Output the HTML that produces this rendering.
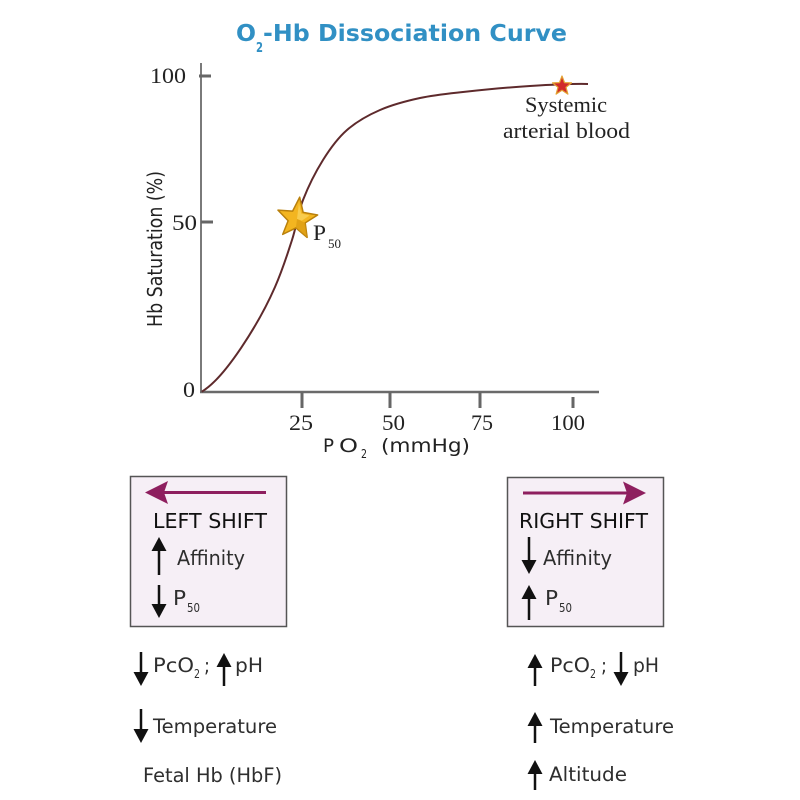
<!DOCTYPE html>
<html>
<head>
<meta charset="utf-8">
<style>
  html, body { margin:0; padding:0; background:#ffffff; }
  svg { display:block; }
</style>
</head>
<body>
<svg width="800" height="800" viewBox="0 0 800 800" xmlns="http://www.w3.org/2000/svg">
  <rect x="0" y="0" width="800" height="800" fill="#ffffff"/>

  <!-- Title -->
  <g font-family="'DejaVu Sans', 'Liberation Sans', sans-serif" font-weight="bold" fill="#3190c4">
    <text x="236" y="41" font-size="23" textLength="20" lengthAdjust="spacingAndGlyphs">O</text>
    <text x="256" y="52" font-size="13" textLength="7" lengthAdjust="spacingAndGlyphs">2</text>
    <text x="263" y="41" font-size="23" textLength="304" lengthAdjust="spacingAndGlyphs">-Hb Dissociation Curve</text>
  </g>

  <!-- Axes -->
  <line x1="201" y1="63" x2="201" y2="393" stroke="#7a7a7a" stroke-width="2"/>
  <line x1="200" y1="392" x2="599" y2="392" stroke="#6a6a6a" stroke-width="2.5"/>
  <!-- y ticks -->
  <line x1="199" y1="76" x2="211" y2="76" stroke="#666" stroke-width="3"/>
  <line x1="201" y1="222" x2="213" y2="222" stroke="#666" stroke-width="3"/>
  <!-- x ticks -->
  <line x1="302" y1="392" x2="302" y2="408" stroke="#666" stroke-width="3"/>
  <line x1="390" y1="392" x2="390" y2="408" stroke="#666" stroke-width="3"/>
  <line x1="480" y1="392" x2="480" y2="408" stroke="#666" stroke-width="3"/>
  <line x1="573" y1="397" x2="573" y2="408" stroke="#666" stroke-width="3"/>

  <!-- tick labels -->
  <g font-family="'Liberation Serif', serif" font-size="22" fill="#222">
    <text x="150" y="83" textLength="36" lengthAdjust="spacingAndGlyphs">100</text>
    <text x="172" y="230" textLength="25" lengthAdjust="spacingAndGlyphs">50</text>
    <text x="183" y="397" textLength="12" lengthAdjust="spacingAndGlyphs">0</text>
    <text x="289" y="430" textLength="24" lengthAdjust="spacingAndGlyphs">25</text>
    <text x="382" y="430" textLength="23" lengthAdjust="spacingAndGlyphs">50</text>
    <text x="471" y="430" textLength="22" lengthAdjust="spacingAndGlyphs">75</text>
    <text x="551" y="430" textLength="34" lengthAdjust="spacingAndGlyphs">100</text>
  </g>

  <!-- axis titles -->
  <g font-family="'DejaVu Sans', 'Liberation Sans', sans-serif" fill="#222">
    <text transform="translate(162,249) rotate(-90)" text-anchor="middle" font-size="20" textLength="156" lengthAdjust="spacingAndGlyphs">Hb Saturation (%)</text>
    <text x="323" y="452" font-size="19" textLength="11" lengthAdjust="spacingAndGlyphs">P</text>
    <text x="339" y="452" font-size="19" textLength="19" lengthAdjust="spacingAndGlyphs">O</text>
    <text x="361" y="458" font-size="12" textLength="6" lengthAdjust="spacingAndGlyphs">2</text>
    <text x="381" y="452" font-size="19" textLength="89" lengthAdjust="spacingAndGlyphs">(mmHg)</text>
  </g>

  <!-- Curve -->
  <path d="M201.7,391.7
           C225,378 259,323.5 275,287
           C282.8,269.2 287.3,254.5 292,240
           C296.7,225.5 297.8,213.3 303,200
           C308.2,186.7 315.7,171.7 323,160
           C330.3,148.3 337.5,138.3 347,130
           C356.5,121.7 367.8,115.3 380,110
           C392.2,104.7 406.2,101 420,98
           C433.8,95 444.7,94 463,92
           C481.3,90 509.2,87.3 530,86
           C550.8,84.7 578.3,83.7 588,84"
        fill="none" stroke="#5e2a2c" stroke-width="2"/>

  <!-- P50 star -->
  <g transform="rotate(7 297 219)">
    <polygon points="297,197 302.3,211.7 317,212.5 305.6,221.8 309.3,236 297,228 284.7,236 288.4,221.8 277,212.5 291.7,211.7"
             fill="#f3b520" stroke="#b9800c" stroke-width="1.5" stroke-linejoin="round"/>
    <polygon points="297,203 300.5,213 309,214 302,220 297,219" fill="#f9d25a" opacity="0.8"/>
    <polygon points="297,219 305.6,221.8 309.3,236 297,228" fill="#d99a12" opacity="0.7"/>
  </g>
  <g font-family="'Liberation Serif', serif" fill="#222">
    <text x="313" y="240" font-size="22" textLength="13" lengthAdjust="spacingAndGlyphs">P</text>
    <text x="328" y="248" font-size="13" textLength="13" lengthAdjust="spacingAndGlyphs">50</text>
  </g>

  <!-- Systemic arterial blood star -->
  <polygon points="562,76 564.5,82.6 571.5,82.9 566,87.3 567.9,94.1 562,90.2 556.1,94.1 558,87.3 552.5,82.9 559.5,82.6"
           fill="#d12a2a" stroke="#e3a233" stroke-width="1.2" stroke-linejoin="round"/>
  <g font-family="'Liberation Serif', serif" font-size="22" fill="#222">
    <text x="525" y="112" textLength="82" lengthAdjust="spacingAndGlyphs">Systemic</text>
    <text x="503" y="138" textLength="127" lengthAdjust="spacingAndGlyphs">arterial blood</text>
  </g>

  <!-- Boxes -->
  <rect x="130.5" y="476.5" width="156" height="150" fill="#f6eff6" stroke="#555" stroke-width="1.5"/>
  <rect x="507.5" y="477.5" width="156" height="149" fill="#f6eff6" stroke="#555" stroke-width="1.5"/>

  <!-- magenta arrows -->
  <line x1="162" y1="492.5" x2="266" y2="492.5" stroke="#8e1f5f" stroke-width="3"/>
  <polygon points="145,492.5 168,481 164,492.5 168,504" fill="#8e1f5f"/>
  <line x1="523" y1="493" x2="628" y2="493" stroke="#8e1f5f" stroke-width="3"/>
  <polygon points="646,493 623,481.5 627,493 623,504.5" fill="#8e1f5f"/>

  <g font-family="'DejaVu Sans', 'Liberation Sans', sans-serif" fill="#111">
    <text x="153" y="528" font-size="20" textLength="114" lengthAdjust="spacingAndGlyphs">LEFT SHIFT</text>
    <text x="519" y="528" font-size="20" textLength="129" lengthAdjust="spacingAndGlyphs">RIGHT SHIFT</text>
  </g>

  <g font-family="'DejaVu Sans', 'Liberation Sans', sans-serif" fill="#2e2e2e">
    <text x="177" y="565" font-size="20" textLength="68" lengthAdjust="spacingAndGlyphs">Affinity</text>
    <text x="173" y="605" font-size="20" textLength="13" lengthAdjust="spacingAndGlyphs">P</text>
    <text x="187" y="612" font-size="12" textLength="13" lengthAdjust="spacingAndGlyphs">50</text>

    <text x="543" y="565" font-size="20" textLength="69" lengthAdjust="spacingAndGlyphs">Affinity</text>
    <text x="545" y="605" font-size="20" textLength="13" lengthAdjust="spacingAndGlyphs">P</text>
    <text x="559" y="612" font-size="12" textLength="13" lengthAdjust="spacingAndGlyphs">50</text>

    <!-- left list -->
    <text x="153" y="672" font-size="19.5" textLength="41" lengthAdjust="spacingAndGlyphs">PcO</text>
    <text x="194" y="678" font-size="12" textLength="6" lengthAdjust="spacingAndGlyphs">2</text>
    <text x="204" y="672" font-size="19.5" textLength="6" lengthAdjust="spacingAndGlyphs">;</text>
    <text x="235" y="672" font-size="19.5" textLength="28" lengthAdjust="spacingAndGlyphs">pH</text>
    <text x="153" y="733" font-size="19.5" textLength="124" lengthAdjust="spacingAndGlyphs">Temperature</text>
    <text x="143" y="782" font-size="19.5" textLength="139" lengthAdjust="spacingAndGlyphs">Fetal Hb (HbF)</text>

    <!-- right list -->
    <text x="550" y="672" font-size="19.5" textLength="40" lengthAdjust="spacingAndGlyphs">PcO</text>
    <text x="590" y="678" font-size="12" textLength="6" lengthAdjust="spacingAndGlyphs">2</text>
    <text x="601" y="672" font-size="19.5" textLength="6" lengthAdjust="spacingAndGlyphs">;</text>
    <text x="633" y="672" font-size="19.5" textLength="26" lengthAdjust="spacingAndGlyphs">pH</text>
    <text x="550" y="733" font-size="19.5" textLength="124" lengthAdjust="spacingAndGlyphs">Temperature</text>
    <text x="549" y="781" font-size="19.5" textLength="78" lengthAdjust="spacingAndGlyphs">Altitude</text>
  </g>

  <!-- black arrows -->
  <g fill="#111" stroke="#111">
    <line x1="159" y1="548" x2="159" y2="575" stroke-width="2.5"/>
    <polygon points="159,537 151.5,551 166.5,551" stroke="none"/>
    <line x1="159" y1="585" x2="159" y2="607" stroke-width="2.5"/>
    <polygon points="159,618 151.5,604 166.5,604" stroke="none"/>

    <line x1="529" y1="537" x2="529" y2="563" stroke-width="2.5"/>
    <polygon points="529,574 521.5,560 536.5,560" stroke="none"/>
    <line x1="529" y1="596" x2="529" y2="620" stroke-width="2.5"/>
    <polygon points="529,585 521.5,599 536.5,599" stroke="none"/>

    <line x1="141" y1="652" x2="141" y2="675" stroke-width="2.5"/>
    <polygon points="141,686 133.5,672 148.5,672" stroke="none"/>
    <line x1="224" y1="664" x2="224" y2="686" stroke-width="2.5"/>
    <polygon points="224,653 216.5,667 231.5,667" stroke="none"/>
    <line x1="141" y1="709" x2="141" y2="732" stroke-width="2.5"/>
    <polygon points="141,743 133.5,729 148.5,729" stroke="none"/>

    <line x1="535" y1="665" x2="535" y2="686" stroke-width="2.5"/>
    <polygon points="535,654 527.5,668 542.5,668" stroke="none"/>
    <line x1="621" y1="652" x2="621" y2="675" stroke-width="2.5"/>
    <polygon points="621,686 613.5,672 628.5,672" stroke="none"/>
    <line x1="535" y1="723" x2="535" y2="743" stroke-width="2.5"/>
    <polygon points="535,712 527.5,726 542.5,726" stroke="none"/>
    <line x1="535" y1="771" x2="535" y2="790" stroke-width="2.5"/>
    <polygon points="535,760 527.5,774 542.5,774" stroke="none"/>
  </g>
</svg>
</body>
</html>
